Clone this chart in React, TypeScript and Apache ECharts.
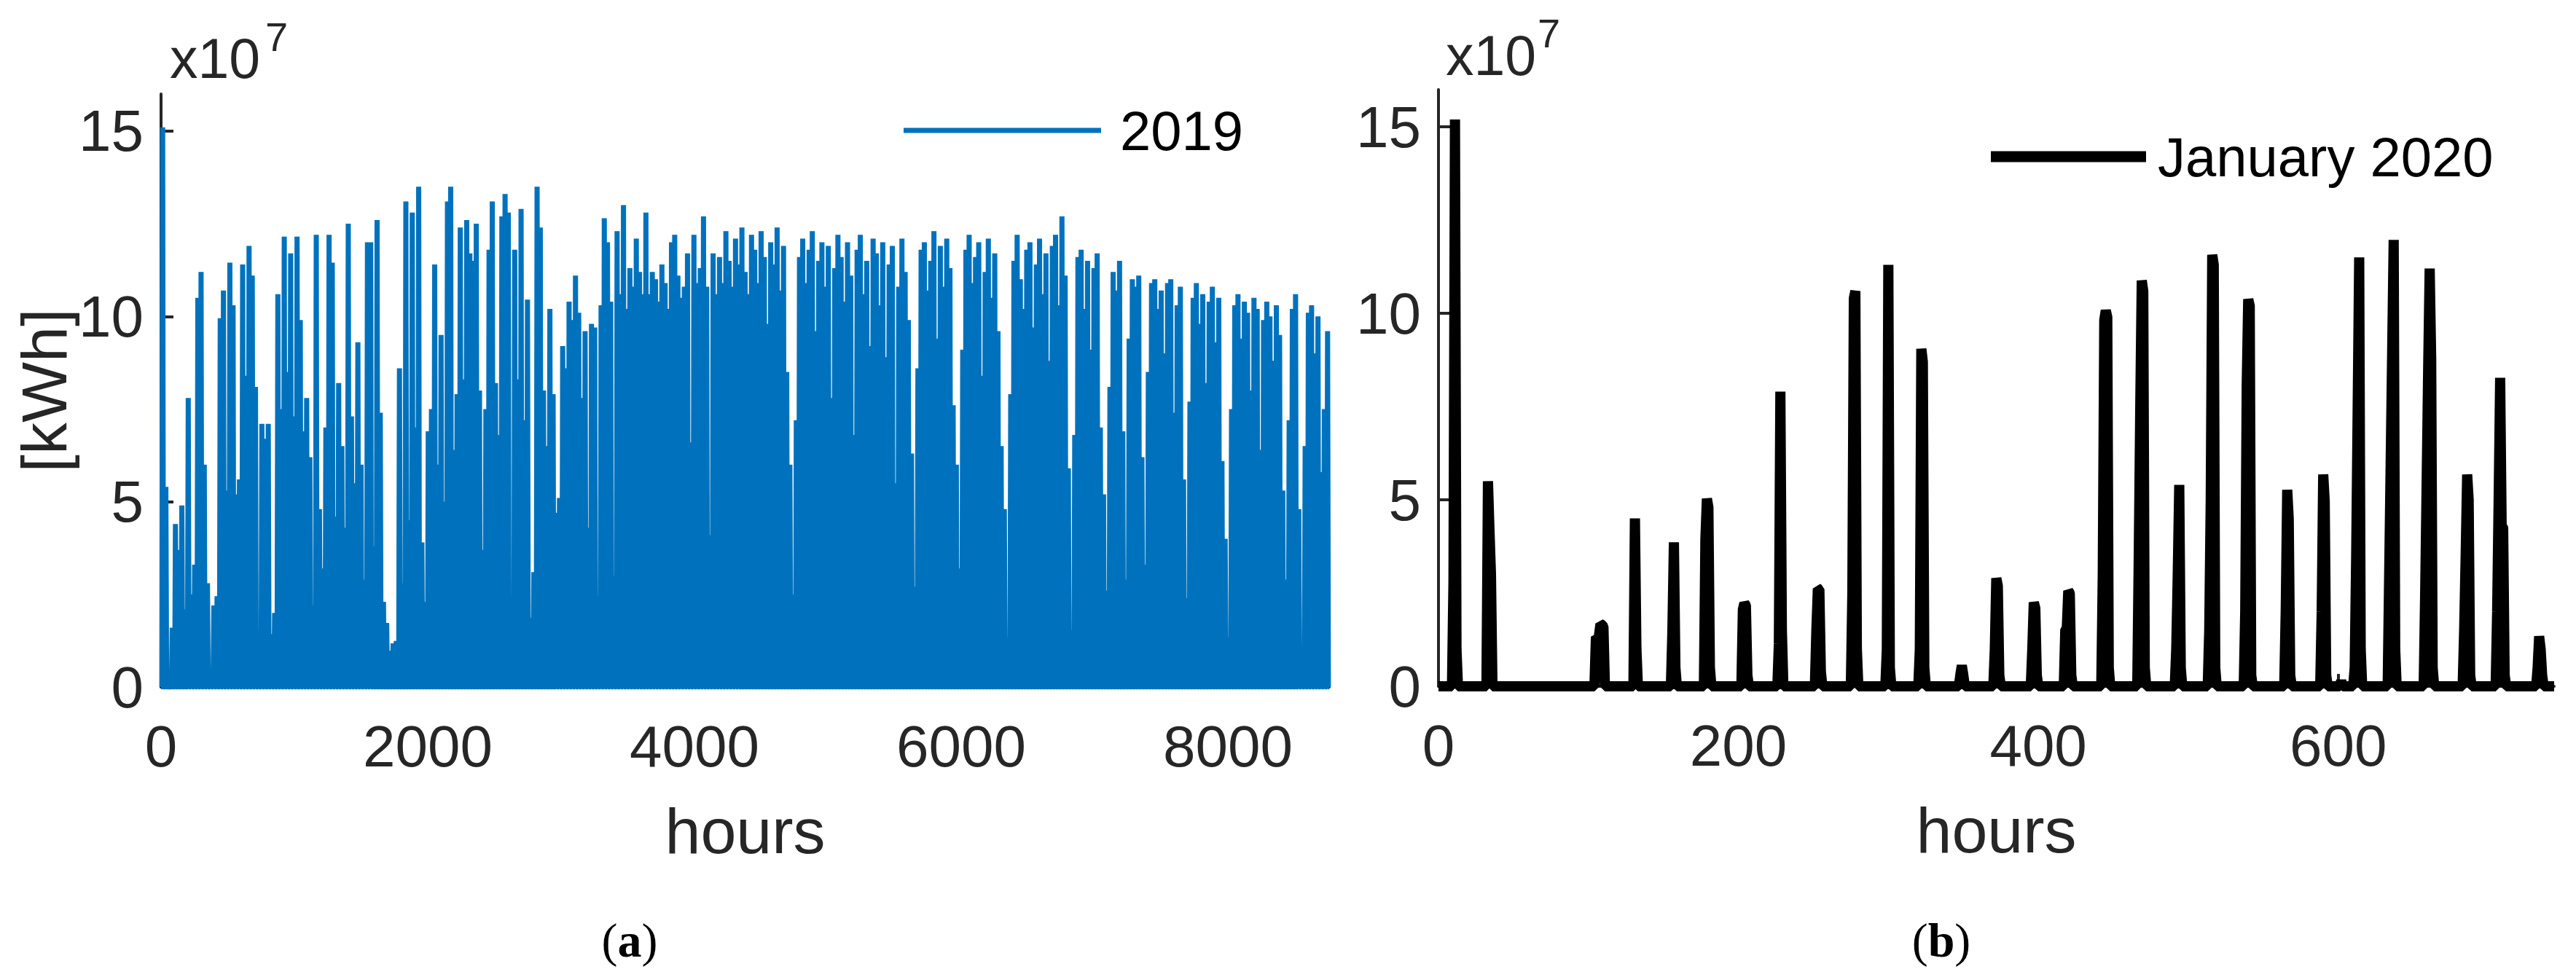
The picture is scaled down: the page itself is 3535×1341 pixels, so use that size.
import React, { useEffect, useRef } from "react";
import * as echarts from "echarts";

const BLUE = "#0072BD";
const AXIS = "#262626";
const FONT = "'Liberation Sans Narrow', 'Liberation Sans', Arial, sans-serif";
const SERIF = "'Liberation Serif', 'Times New Roman', serif";

// ---- (a) 2019: daily peak energy, in 10^7 kWh ----
const jan2019 = [15.1, 5.4, 0, 1.6, 4.4, 3.7, 4.9, 2.1, 7.8, 2.5, 3.3, 10.5, 11.2, 6.0, 2.8, 0.45, 2.2, 2.45, 9.95, 10.7, 5.3, 11.45, 10.3, 5.2, 5.6, 11.4, 8.4, 11.9, 11.1, 8.1, 1.24];
const feb2019 = [7.1, 6.7, 7.1, 1.43, 2.0, 10.6, 7.5, 12.15, 8.5, 11.7, 7.3, 12.15, 9.9, 6.9, 7.8, 6.2, 2.2, 12.2, 4.8, 3.2, 7.0, 12.2, 11.45, 4.6, 8.2, 6.5, 4.3, 12.5];
const mar2019 = [7.3, 5.5, 9.3, 6.0, 2.9, 12.0, 12.0, 3.8, 12.6, 7.4, 2.3, 1.73, 0.98, 1.18, 1.24, 8.6, 2.8, 13.1, 4.5, 12.8, 7.0, 13.5, 3.9, 2.3, 6.9, 7.5, 11.4, 6.0, 9.5, 5.0, 13.1];
const apr2019 = [13.5, 6.4, 7.9, 12.4, 8.3, 12.6, 11.7, 11.5, 12.5, 8.0, 3.7, 7.5, 11.8, 13.1, 8.2, 6.8, 12.7, 13.3, 12.8, 1.53, 11.8, 8.3, 12.9, 7.2, 10.45, 1.87, 3.1, 13.5, 12.4, 8.0];
const may2019 = [6.5, 10.2, 7.9, 4.7, 5.1, 9.2, 8.6, 10.4, 9.9, 11.1, 10.1, 7.8, 9.6, 4.3, 9.8, 9.7, 2.45, 10.3, 12.65, 12.0, 10.4, 3.0, 12.3, 10.6, 13.0, 10.2, 11.3, 10.8, 12.1, 11.2, 10.6];
const jun2019 = [12.8, 10.6, 11.2, 11.0, 10.4, 11.4, 10.9, 10.2, 12.0, 12.2, 11.1, 10.5, 10.8, 11.7, 6.6, 12.2, 10.9, 11.3, 12.7, 10.8, 4.1, 11.7, 10.6, 11.6, 10.9, 12.3, 11.5, 10.8, 12.1, 11.4];
const jul2019 = [12.4, 11.2, 10.6, 12.2, 11.8, 10.9, 12.3, 11.6, 9.8, 12.0, 11.4, 12.4, 10.7, 11.9, 8.5, 6.0, 2.5, 7.2, 11.6, 12.1, 10.9, 11.8, 12.3, 9.6, 11.5, 12.0, 10.8, 11.9, 7.8, 11.3, 12.2];
const aug2019 = [11.6, 10.4, 12.0, 11.1, 6.8, 11.8, 12.2, 10.6, 11.5, 9.2, 12.1, 11.7, 10.3, 12.0, 8.9, 11.4, 11.9, 5.5, 10.8, 12.1, 11.2, 9.9, 6.3, 2.7, 8.6, 11.8, 12.0, 10.7, 11.5, 12.3, 9.4];
const sep2019 = [11.9, 10.8, 12.1, 11.3, 7.6, 6.0, 3.2, 9.1, 11.8, 12.2, 10.9, 11.6, 12.0, 8.4, 11.2, 12.1, 10.5, 11.7, 9.6, 6.5, 4.8, 1.34, 7.9, 11.5, 12.2, 11.0, 10.2, 11.8, 12.0, 9.7];
const oct2019 = [11.4, 12.1, 10.6, 11.7, 8.8, 11.9, 12.2, 10.3, 12.7, 11.1, 5.9, 1.53, 6.8, 11.6, 11.8, 10.2, 11.5, 9.1, 11.3, 11.7, 7.0, 5.2, 2.6, 8.1, 11.2, 10.7, 11.5, 6.9, 2.9, 9.4, 11.0];
const nov2019 = [10.8, 11.1, 6.2, 3.3, 8.5, 10.9, 11.0, 10.2, 10.7, 9.0, 10.9, 11.0, 7.4, 10.3, 10.8, 5.6, 2.4, 7.7, 10.5, 10.9, 9.8, 10.6, 8.2, 10.4, 10.8, 9.3, 10.5, 6.1, 4.0, 1.34];
const dec2019 = [7.5, 10.3, 10.6, 9.4, 10.4, 10.1, 8.0, 10.5, 10.2, 6.4, 9.9, 10.4, 10.0, 8.8, 10.3, 9.5, 5.3, 2.9, 7.2, 10.2, 10.6, 4.8, 0.85, 6.5, 10.1, 10.3, 9.0, 10.0, 5.8, 7.5, 9.6];
const daily2019 = [
  ...jan2019, ...feb2019, ...mar2019, ...apr2019, ...may2019, ...jun2019,
  ...jul2019, ...aug2019, ...sep2019, ...oct2019, ...nov2019, ...dec2019,
];

// ---- (b) January 2020: non-zero hours, [first hour, hourly values] (10^7 kWh) ----
const jan2020Days: [number, number[]][] = [
  [10, [2.8, 15.2, 1.0]],
  [33, [5.5, 4.2, 3.0]],
  [105, [1.33, 1.3, 1.35, 1.67, 1.65, 1.6]],
  [131, [4.5, 1.0]],
  [156, [1.5, 3.86, 0.5]],
  [178, [3.95, 5.03, 4.8, 0.5]],
  [203, [2.06, 2.23, 2.17, 0.3]],
  [227, [1.15, 7.9, 1.5]],
  [252, [1.5, 2.62, 2.6, 0.4]],
  [276, [2.5, 10.4, 10.6, 1.0]],
  [299, [1.0, 11.3, 0.5]],
  [321, [1.0, 9.05, 8.7, 0.5]],
  [348, [0.3, 0.56, 0.3]],
  [371, [1.0, 2.9, 2.7, 0.3]],
  [396, [1.0, 2.25, 2.1, 0.3]],
  [418, [1.52, 1.55, 2.56, 2.5, 0.3]],
  [443, [3.0, 9.82, 10.08, 9.9, 0.5]],
  [467, [3.5, 7.5, 10.88, 10.6, 0.5]],
  [492, [1.0, 3.0, 5.4, 0.5]],
  [514, [1.5, 5.0, 11.57, 11.3, 0.5]],
  [538, [2.0, 8.07, 10.38, 10.2, 0.3]],
  [565, [2.0, 5.27, 4.5, 0.3]],
  [589, [2.0, 5.68, 4.97, 0.3]],
  [602, [0.15]],
  [611, [0.5, 3.5, 7.5, 11.5, 1.0]],
  [634, [3.0, 6.0, 9.0, 11.97, 1.0]],
  [658, [2.5, 5.5, 8.5, 11.2, 8.8, 0.5]],
  [684, [1.5, 3.5, 5.68, 5.0, 0.3]],
  [706, [2.0, 5.0, 8.27, 4.3, 4.27, 0.3]],
  [733, [0.5, 1.34, 1.0, 0.3]],
];

const xTicks2019 = [0, 2000, 4000, 6000, 8000];
const xTicks2020 = [0, 200, 400, 600];
const yTicks = [0, 5, 10, 15];

// hourly series, 2019: night hours are zero
const hours2019: [number, number][] = [[0, 0]];
daily2019.forEach((v, d) => {
  hours2019.push([24 * d + 6, 0], [24 * d + 12, v], [24 * d + 18, 0]);
});
hours2019.push([8760, 0]);

// hourly series, January 2020
const hours2020: [number, number][] = [];
for (let h = 0; h <= 744; h++) hours2020.push([h, 0]);
jan2020Days.forEach(([start, vals]) => {
  vals.forEach((v, i) => {
    hours2020[start + i][1] = v;
  });
});

const tickLabel = {
  color: AXIS,
  fontSize: 80,
  fontFamily: FONT,
  formatter: (v: number) => String(v),
};

function xAxisCfg(gridIndex: number, max: number, ticks: number[]) {
  return {
    type: "value",
    gridIndex,
    min: 0,
    max,
    name: "hours",
    nameLocation: "middle",
    nameGap: 153,
    nameTextStyle: { color: AXIS, fontSize: 88, fontFamily: FONT, lineHeight: 88 },
    axisLine: { show: true, lineStyle: { color: AXIS, width: 4 } },
    axisTick: { show: true, inside: true, length: 17, lineStyle: { color: AXIS, width: 4 }, customValues: ticks },
    axisLabel: { ...tickLabel, margin: 41, lineHeight: 80, customValues: ticks },
    splitLine: { show: false },
  };
}

function yAxisCfg(gridIndex: number, name: string) {
  return {
    type: "value",
    gridIndex,
    min: 0,
    max: 16,
    name,
    nameLocation: "middle",
    nameGap: 112,
    nameTextStyle: { color: AXIS, fontSize: 88, fontFamily: FONT, lineHeight: 88 },
    axisLine: { show: true, lineStyle: { color: AXIS, width: 4 } },
    axisTick: { show: true, inside: true, length: 17, lineStyle: { color: AXIS, width: 4 }, customValues: yTicks },
    axisLabel: { ...tickLabel, margin: 24, customValues: yTicks },
    splitLine: { show: false },
  };
}

function textEl(x: number, y: number, text: string, fontSize: number, align = "left") {
  return {
    type: "text",
    x,
    y,
    silent: true,
    style: {
      text,
      fontSize,
      fontFamily: FONT,
      fill: AXIS,
      align,
      textAlign: align,
      verticalAlign: "middle",
      textVerticalAlign: "middle",
    },
  };
}

function panelTag(x: number, letter: string) {
  return {
    type: "text",
    x,
    y: 1290,
    silent: true,
    style: {
      text: `{p|(}{b|${letter}}{p|)}`,
      align: "center",
      textAlign: "center",
      verticalAlign: "middle",
      textVerticalAlign: "middle",
      rich: {
        p: { fontSize: 66, fontFamily: SERIF, fill: "#000" },
        b: { fontSize: 66, fontFamily: SERIF, fontWeight: "bold", fill: "#000" },
      },
    },
  };
}

const option = {
  animation: false,
  backgroundColor: "#ffffff",
  grid: [
    { left: 221, top: 129, width: 1603, height: 814, outerBoundsMode: "none" },
    { left: 1974, top: 123, width: 1531, height: 819, outerBoundsMode: "none" },
  ],
  xAxis: [xAxisCfg(0, 8760, xTicks2019), xAxisCfg(1, 744, xTicks2020)],
  yAxis: [yAxisCfg(0, "[kWh]"), yAxisCfg(1, "")],
  legend: [
    {
      data: ["2019"],
      left: 1240,
      top: 141,
      padding: 0,
      icon: "rect",
      itemWidth: 271,
      itemHeight: 7,
      selectedMode: false,
      textStyle: { fontSize: 76, lineHeight: 76, fontFamily: FONT, color: "#000", padding: [0, 0, 0, 21] },
    },
    {
      data: ["January 2020"],
      left: 2732,
      top: 177,
      padding: 0,
      icon: "rect",
      itemWidth: 213,
      itemHeight: 15,
      selectedMode: false,
      textStyle: { fontSize: 76, lineHeight: 76, fontFamily: FONT, color: "#000", padding: [0, 0, 0, 11] },
    },
  ],
  series: [
    {
      type: "line",
      name: "2019",
      xAxisIndex: 0,
      yAxisIndex: 0,
      data: hours2019,
      symbol: "none",
      showSymbol: false,
      silent: true,
      lineStyle: { color: BLUE, width: 7 },
      itemStyle: { color: BLUE },
    },
    {
      type: "line",
      name: "January 2020",
      xAxisIndex: 1,
      yAxisIndex: 1,
      data: hours2020,
      symbol: "none",
      showSymbol: false,
      silent: true,
      lineStyle: { color: "#000000", width: 14 },
      itemStyle: { color: "#000000" },
    },
  ],
  graphic: [
    textEl(233, 80, "x10", 77),
    textEl(364, 50, "7", 56),
    textEl(1984, 76, "x10", 77),
    textEl(2110, 45, "7", 56),
    panelTag(864, "a"),
    panelTag(2664, "b"),
  ],
};

export default function App() {
  const ref = useRef<HTMLDivElement>(null);
  useEffect(() => {
    if (!ref.current) return;
    const chart = echarts.init(ref.current, null, { renderer: "svg" });
    chart.setOption(option as any);
    return () => chart.dispose();
  }, []);
  return (
    <div
      ref={ref}
      style={{ position: "fixed", left: 0, top: 0, width: 3535, height: 1341, background: "#fff" }}
    />
  );
}
